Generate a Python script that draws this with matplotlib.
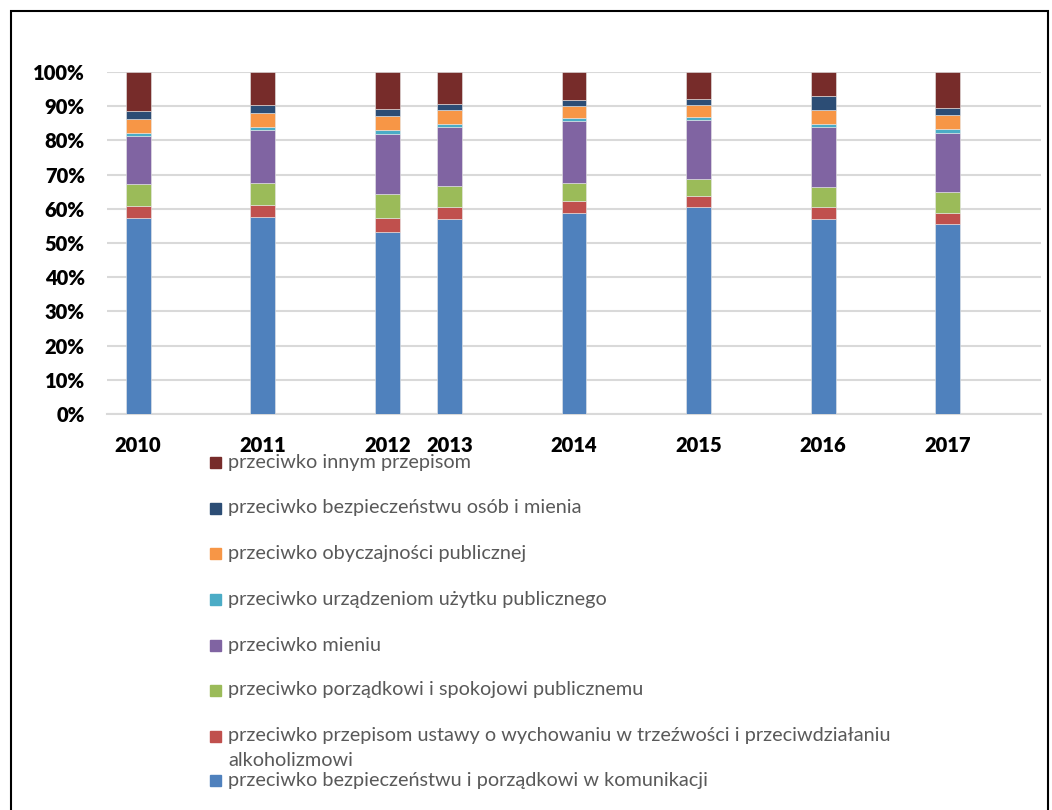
import numpy as np
import matplotlib
matplotlib.use("Agg")
import matplotlib.pyplot as plt
from matplotlib.patches import Rectangle

# data (share of each category in %)
years = ["2010", "2011", "2012", "2013", "2014", "2015", "2016", "2017"]
komunikacja = [57.2, 57.5, 53.3, 57.0, 58.8, 60.4, 56.9, 55.5]
trzezwosc = [3.6, 3.7, 4.1, 3.5, 3.4, 3.2, 3.5, 3.2]
porzadek = [6.5, 6.3, 6.8, 6.1, 5.4, 5.1, 5.9, 6.1]
mienie = [13.9, 15.4, 17.6, 17.4, 18.1, 17.2, 17.7, 17.5]
urzadzenia = [0.9, 0.9, 1.2, 0.9, 0.8, 0.8, 0.9, 1.0]
obyczajnosc = [4.3, 4.3, 4.2, 3.9, 3.7, 3.7, 4.0, 4.1]
bezp_osob = [2.1, 2.3, 2.1, 1.9, 1.5, 1.6, 4.1, 2.0]
inne = [11.5, 9.6, 10.7, 9.3, 8.3, 8.0, 7.0, 10.6]

labels = [
    "przeciwko bezpieczeństwu i porządkowi w komunikacji",
    "przeciwko przepisom ustawy o wychowaniu w trzeźwości i przeciwdziałaniu\nalkoholizmowi",
    "przeciwko porządkowi i spokojowi publicznemu",
    "przeciwko mieniu",
    "przeciwko urządzeniom użytku publicznego",
    "przeciwko obyczajności publicznej",
    "przeciwko bezpieczeństwu osób i mienia",
    "przeciwko innym przepisom",
]
colors = ["#4F81BD", "#C0504D", "#9BBB59", "#8064A2",
          "#4BACC6", "#F79646", "#2C4D75", "#772C2A"]

series = [komunikacja, trzezwosc, porzadek, mienie, urzadzenia,
          obyczajnosc, bezp_osob, inne]

# x axis behaves like a date axis: 2013 sits half a step after 2012
xpos = np.array([0, 1, 2, 2.5, 3.5, 4.5, 5.5, 6.5])

fig = plt.figure(figsize=(10.52, 8.10), dpi=100)
ax = fig.add_axes([107 / 1052, 1 - 414 / 810, 934 / 1052, 342 / 810])

bottom = np.zeros(len(years))
for vals, col in zip(series, colors):
    v = np.array(vals) / 100
    ax.bar(xpos, v, width=0.2, bottom=bottom, color=col,
           edgecolor="#E8E8E8", linewidth=0.4, zorder=3)
    bottom += v

ax.set_xlim(-0.25, 7.25)
ax.set_ylim(0, 1)
ax.set_yticks(np.arange(0, 1.01, 0.1))
ax.set_yticklabels([f"{int(round(t * 100))}%" for t in np.arange(0, 1.01, 0.1)])
ax.set_xticks(xpos)
ax.set_xticklabels(years)
ax.yaxis.grid(True, color="#D9D9D9", linewidth=1.5, zorder=0)
for s in ["top", "right", "left"]:
    ax.spines[s].set_visible(False)
ax.spines["bottom"].set_color("#D9D9D9")
ax.spines["bottom"].set_linewidth(1.5)
ax.tick_params(axis="both", length=0)
ax.tick_params(axis="y", pad=16)
ax.tick_params(axis="x", pad=16)
for t in ax.get_xticklabels() + ax.get_yticklabels():
    t.set_fontfamily("Lato")
    t.set_fontweight("heavy")
    t.set_fontsize(14.5)
    t.set_color("black")

# legend drawn by hand (Excel wraps the long entry)
leg_y = [780.7, 736, 690, 645, 599, 553, 508, 462.7]
for lab, col, y in zip(labels, colors, leg_y):
    fig.patches.append(Rectangle((210 / 1052, 1 - (y + 5.5) / 810), 11 / 1052, 11 / 810,
                                 transform=fig.transFigure, color=col))
    lines = lab.split("\n")
    fig.text(228 / 1052, 1 - y / 810, lines[0], fontsize=14.3, family="Lato",
             color="#595959", va="center", ha="left")
    if len(lines) > 1:
        fig.text(228 / 1052, 1 - (y + 24) / 810, lines[1], fontsize=14.3, family="Lato",
                 color="#595959", va="center", ha="left")

# outer frame
fig.patches.append(Rectangle((11 / 1052, -0.05), 1037 / 1052, 1.05 - 11 / 810,
                             transform=fig.transFigure, fill=False,
                             edgecolor="black", linewidth=1.5))

fig.savefig("out.png", dpi=100)
